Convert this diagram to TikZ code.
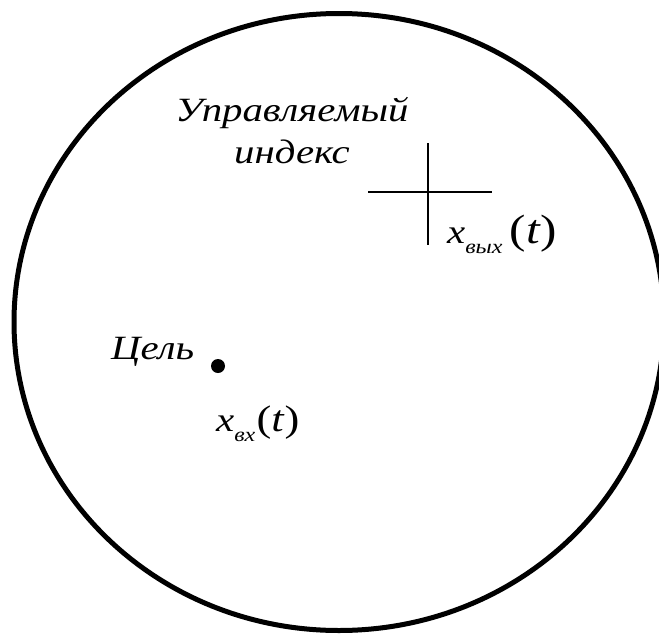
\documentclass[tikz,border=0pt]{standalone}
\usepackage{fontspec}
\setmainfont{Liberation Serif}
\usetikzlibrary{positioning}
\newcommand{\widetext}[1]{\scalebox{1.2}[1]{#1}}
\newcommand{\xsub}[3]{\widetext{\textit{x}\raisebox{-0.3em}{\fontsize{20}{20}\selectfont\itshape #1}\hspace{#2}{\fontsize{#3}{#3}\selectfont\textup{(}\textit{t}\textup{)}}}}

\begin{document}
\begin{tikzpicture}[x=1pt, y=-1pt,
    caption/.style={font=\fontsize{34}{42}\selectfont\itshape, inner sep=0pt},
    field/.style={line width=5pt},
    marker/.style={line width=2pt}
  ]
    \useasboundingbox (0,0) rectangle (659,635);
    \draw[field] (339,322) ellipse [x radius=325, y radius=308.5];

    % controlled index
    \node[caption, anchor=base] (upr) at (292,121) {\widetext{Управляемый}};
    \node[caption, anchor=base] (ind) at (292,163) {\widetext{индекс}};
    \coordinate (cross) at (428,192);
    \draw[marker] ([xshift=-60pt]cross) -- ([xshift=64pt]cross);
    \draw[marker] ([yshift=49pt]cross) -- ([yshift=-53pt]cross);
    \node[caption, anchor=base west] (xout) at (447,243) {\xsub{вых}{6pt}{41}};

    % target
    \node[caption, anchor=base west] (goal) at (111,359) {\widetext{Цель}};
    \fill (218,366) circle (7) coordinate (goaldot);
    \node[caption, anchor=base west] (xin) at (216,431) {\xsub{вх}{1pt}{37}};
  \end{tikzpicture}
\end{document}
